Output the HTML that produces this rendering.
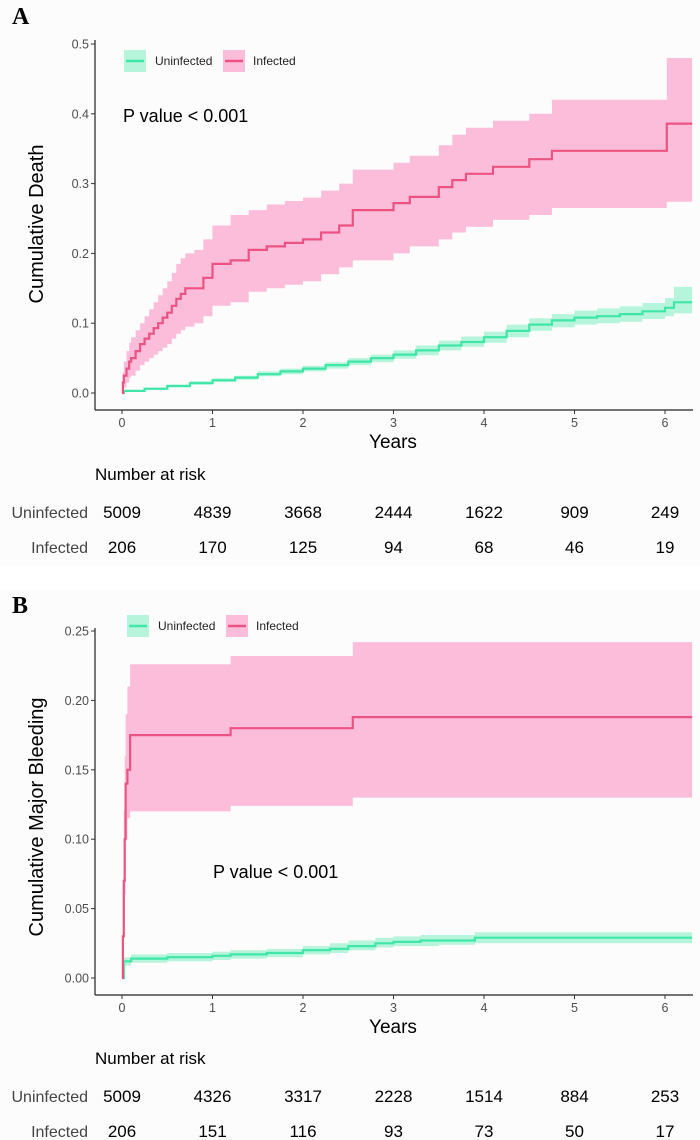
<!DOCTYPE html>
<html><head><meta charset="utf-8"><style>
body{margin:0;background:#fff}
svg{display:block}
text{font-family:"Liberation Sans",sans-serif}
.n{font-family:"Liberation Sans Narrow","Liberation Sans",sans-serif}
</style></head><body>
<svg id="s" width="700" height="1140" viewBox="0 0 700 1140">
<rect x="0" y="0" width="700" height="566" fill="#fcfcfc"/>
<rect x="0" y="590" width="700" height="550" fill="#fcfcfc"/>
</svg>
<script>
// ---- Panel A data ----
const aInfT  =[0,.01,.02,.05,.08,.1,.15,.2,.25,.3,.35,.4,.45,.5,.55,.6,.65,.7,.8,.9,1.0,1.2,1.4,1.6,1.8,2.0,2.2,2.4,2.55,3.0,3.18,3.5,3.65,3.8,4.1,4.5,4.75,6.02];
const aInfEst=[0,.015,.025,.035,.045,.05,.06,.07,.078,.085,.093,.1,.108,.115,.125,.135,.142,.15,.15,.165,.185,.19,.205,.21,.215,.22,.23,.24,.262,.272,.281,.295,.305,.314,.324,.335,.347,.386];
const aInfLo =[0,.003,.008,.015,.022,.025,.032,.04,.045,.05,.055,.06,.065,.07,.078,.085,.09,.095,.1,.11,.125,.13,.145,.15,.155,.16,.17,.18,.19,.2,.21,.22,.23,.238,.248,.255,.265,.274];
const aInfHi =[0,.03,.045,.06,.072,.08,.09,.10,.11,.12,.13,.14,.15,.16,.172,.185,.193,.20,.205,.22,.24,.255,.262,.27,.275,.28,.29,.30,.32,.33,.34,.355,.37,.38,.39,.40,.42,.48];
const aUnT   =[0,.02,.25,.5,.75,1,1.25,1.5,1.75,2,2.25,2.5,2.75,3,3.25,3.5,3.75,4,4.25,4.5,4.75,5,5.25,5.5,5.75,6,6.1];
const aUnEst =[0,.003,.006,.01,.014,.018,.022,.027,.031,.035,.04,.045,.05,.055,.061,.068,.073,.08,.089,.098,.104,.108,.11,.113,.117,.122,.13];
const aUnLo  =[0,.002,.005,.008,.012,.016,.019,.024,.027,.031,.035,.04,.044,.049,.054,.061,.066,.072,.08,.089,.094,.098,.1,.102,.106,.11,.114];
const aUnHi  =[0,.004,.008,.012,.017,.021,.025,.031,.035,.039,.044,.05,.055,.061,.068,.075,.081,.088,.098,.107,.113,.118,.121,.124,.129,.136,.152];
const aYTicks=[0,0.1,0.2,0.3,0.4,0.5];
const aYLabels=["0.0","0.1","0.2","0.3","0.4","0.5"];
const aRiskUn=[5009,4839,3668,2444,1622,909,249];
const aRiskInf=[206,170,125,94,68,46,19];
// ---- Panel B data ----
const bInfT  =[0,.01,.02,.03,.04,.06,.09,1.2,2.55];
const bInfEst=[0,.03,.07,.1,.14,.15,.175,.18,.188];
const bInfLo =[0,.005,.03,.06,.1,.115,.12,.124,.13];
const bInfHi =[0,.06,.12,.16,.19,.21,.226,.232,.242];
const bUnT   =[0,.02,.1,.5,1,1.2,1.6,2,2.3,2.5,2.8,3,3.3,3.5,3.9];
const bUnEst =[0,.012,.014,.015,.016,.017,.018,.020,.021,.023,.025,.026,.027,.027,.029];
const bUnLo  =[0,.009,.011,.012,.013,.014,.015,.017,.018,.020,.022,.023,.023,.024,.025];
const bUnHi  =[0,.015,.017,.018,.019,.020,.021,.023,.025,.027,.029,.030,.031,.031,.033];
const bYTicks=[0,0.05,0.1,0.15,0.2,0.25];
const bYLabels=["0.00","0.05","0.10","0.15","0.20","0.25"];
const bRiskUn=[5009,4326,3317,2228,1514,884,253];
const bRiskInf=[206,151,116,93,73,50,17];
const xTicks=[0,1,2,3,4,5,6];
const tMax=6.3;

const NS="http://www.w3.org/2000/svg", svg=document.getElementById('s');
function mk(tag,attrs,txt){const e=document.createElementNS(NS,tag);for(const k in attrs)e.setAttribute(k,attrs[k]);if(txt!==undefined)e.textContent=txt;svg.appendChild(e);return e;}
const xs=t=>122+t*90.5;

function stepPts(T,V,ys){let p=[];for(let i=0;i<T.length;i++){if(i>0)p.push([xs(T[i]),ys(V[i-1])]);p.push([xs(T[i]),ys(V[i])]);}p.push([xs(tMax),ys(V[V.length-1])]);return p;}
function band(T,L,H,ys,fill,name){const up=stepPts(T,H,ys),lo=stepPts(T,L,ys).reverse();const d="M"+up.concat(lo).map(p=>p[0].toFixed(1)+","+p[1].toFixed(1)).join("L")+"Z";
 const e=mk('path',{d:d,fill:fill});
 
 }
function line(T,V,ys,col,name){const d="M"+stepPts(T,V,ys).map(p=>p[0].toFixed(1)+","+p[1].toFixed(1)).join("L");
 const e=mk('path',{d:d,fill:'none',stroke:col,'stroke-width':2.2});
 
 }

function panel(o){
 const ys=v=>o.y0-v*o.k;
 band(o.uT,o.uL,o.uH,ys,'#b6f5dc',o.p+'-uninfected-ci');
 band(o.iT,o.iL,o.iH,ys,'#fcbddb',o.p+'-infected-ci');
 line(o.uT,o.uE,ys,'#3fe6a6',o.p+'-uninfected-curve');
 line(o.iT,o.iE,ys,'#ec5382',o.p+'-infected-curve');
 let e=mk('line',{x1:95,y1:o.top,x2:95,y2:o.ax,stroke:'#222','stroke-width':1.2});
 
 
 e=mk('line',{x1:95,y1:o.ax,x2:693,y2:o.ax,stroke:'#222','stroke-width':1.2});
 
 
 o.yt.forEach((v,i)=>{mk('line',{x1:91,y1:ys(v),x2:95,y2:ys(v),stroke:'#333'});
  const t=mk('text',{x:89,y:ys(v)+4.5,'text-anchor':'end','font-size':12.5,fill:'#4d4d4d'},o.yl[i]);
  
  });
 xTicks.forEach(v=>{mk('line',{x1:xs(v),y1:o.ax,x2:xs(v),y2:o.ax+4,stroke:'#333'});
  const t=mk('text',{x:xs(v),y:o.ax+17,'text-anchor':'middle','font-size':12.5,fill:'#4d4d4d',class:'n'},v);
  
  });
 e=mk('text',{x:393,y:o.ax+38,'text-anchor':'middle','font-size':19,class:'n'},'Years');
 
 
 e=mk('text',{x:0,y:0,'text-anchor':'middle','font-size':20,transform:`translate(43,${o.yTitleY}) rotate(-90)`},o.yTitle);
 
 
 e=mk('text',{x:o.pvx,y:o.pvy,'font-size':18},'P value < 0.001');
 
 
 e=mk('text',{x:12,y:o.labY,'font-size':24,'font-weight':'bold',style:'font-family:"Liberation Serif",serif'},o.lab);
 
 
 const lx=o.lgx, ly=o.lgy;
 mk('rect',{x:lx,y:ly-11,width:22,height:22,fill:'#b6f5dc'});
 mk('line',{x1:lx+2,y1:ly,x2:lx+20,y2:ly,stroke:'#3fe6a6','stroke-width':2.5});
 e=mk('text',{x:lx+31,y:ly+4,'font-size':12,fill:'#222'},'Uninfected');
 
 
 mk('rect',{x:lx+99,y:ly-11,width:22,height:22,fill:'#fcbddb'});
 mk('line',{x1:lx+101,y1:ly,x2:lx+119,y2:ly,stroke:'#ec5382','stroke-width':2.5});
 e=mk('text',{x:lx+129,y:ly+4,'font-size':12,fill:'#222'},'Infected');
 
 
 e=mk('text',{x:95,y:o.nar,'font-size':17,class:'n'},'Number at risk');
 
 
 [['Uninfected',o.ru,o.nar+38],['Infected',o.ri,o.nar+73]].forEach(r=>{
  const t=mk('text',{x:88,y:r[2],'text-anchor':'end','font-size':16,fill:'#444',class:'n'},r[0]);
  
  
  r[1].forEach((v,i)=>{const c=mk('text',{x:xs(xTicks[i]),y:r[2],'text-anchor':'middle','font-size':17,class:'n'},v);
   
   });
 });
}
panel({p:'panel-a',y0:393,k:698,top:40,ax:410,yt:aYTicks,yl:aYLabels,uT:aUnT,uE:aUnEst,uL:aUnLo,uH:aUnHi,iT:aInfT,iE:aInfEst,iL:aInfLo,iH:aInfHi,
 yTitle:'Cumulative Death',yTitleY:224,pvx:123,pvy:122,lab:'A',labY:24,lgx:124,lgy:61,nar:480,ru:aRiskUn,ri:aRiskInf});
panel({p:'panel-b',y0:978,k:1388,top:628,ax:995,yt:bYTicks,yl:bYLabels,uT:bUnT,uE:bUnEst,uL:bUnLo,uH:bUnHi,iT:bInfT,iE:bInfEst,iL:bInfLo,iH:bInfHi,
 yTitle:'Cumulative Major Bleeding',yTitleY:817,pvx:213,pvy:878,lab:'B',labY:613,lgx:127,lgy:626,nar:1064,ru:bRiskUn,ri:bRiskInf});
</script>
</body></html>
